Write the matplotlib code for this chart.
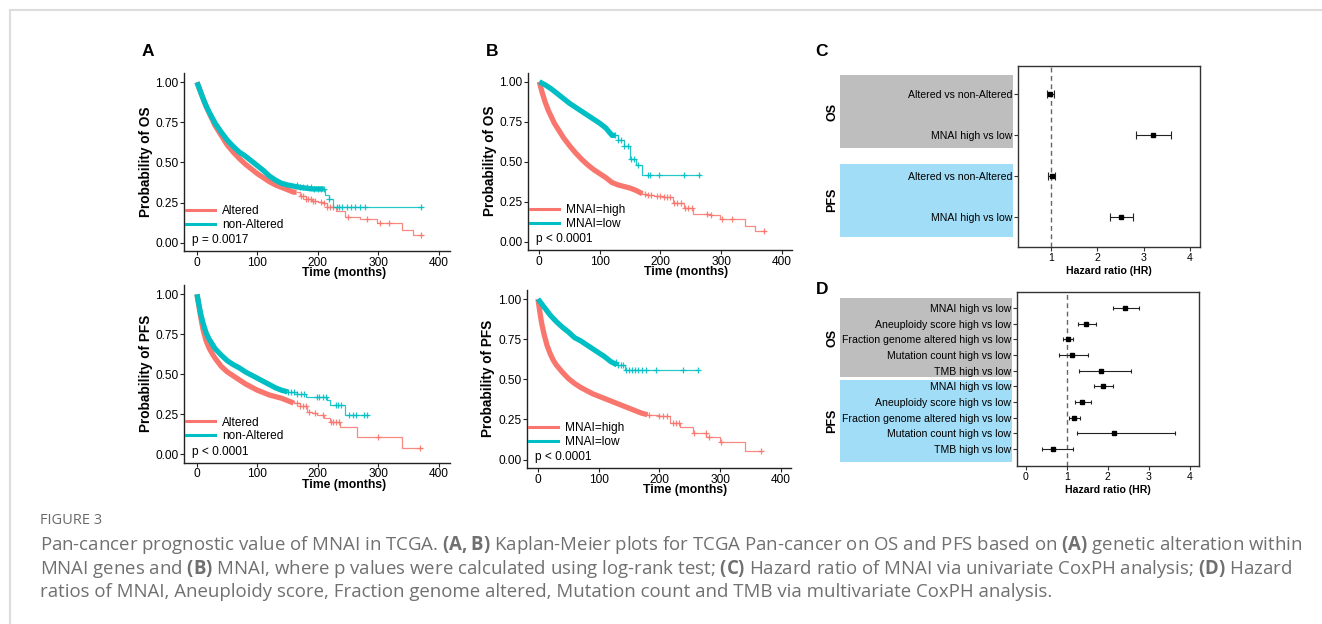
import bisect
import matplotlib
matplotlib.use("Agg")
import matplotlib.pyplot as plt
from matplotlib.lines import Line2D
from matplotlib.patches import Rectangle

plt.rcParams['font.family'] = ['Liberation Sans', 'DejaVu Sans']
plt.rcParams['mathtext.fontset'] = 'custom'
plt.rcParams['mathtext.rm'] = 'Open Sans'
plt.rcParams['mathtext.bf'] = 'Open Sans:bold'

W, H = 1322, 624
RED = "#F8766D"
TEAL = "#00BFC4"

# ---------------- data ----------------
# A, OS
a_os_alt_t = [0, 5, 10, 15, 20, 25, 30, 40, 50, 60, 70, 80, 90, 100, 110, 120, 130, 140, 150, 160, 170, 180, 190, 200, 210, 215, 230, 245, 270, 298, 340, 358]
a_os_alt_s = [1.0, 0.95, 0.90, 0.85, 0.81, 0.77, 0.73, 0.67, 0.61, 0.565, 0.525, 0.49, 0.46, 0.43, 0.405, 0.38, 0.36, 0.345, 0.33, 0.315, 0.29, 0.27, 0.26, 0.255, 0.245, 0.22, 0.20, 0.16, 0.15, 0.12, 0.08, 0.045]
a_os_alt_end = 372
a_os_alt_cens = [172, 176, 180, 184, 188, 192, 196, 205, 210, 216, 220, 226, 250, 282, 303, 318, 371]
a_os_non_t = [0, 5, 10, 15, 20, 25, 30, 40, 50, 60, 70, 80, 90, 100, 110, 120, 130, 140, 150, 170, 190, 212, 218, 226]
a_os_non_s = [1.0, 0.95, 0.90, 0.855, 0.815, 0.78, 0.745, 0.69, 0.64, 0.60, 0.565, 0.54, 0.51, 0.48, 0.45, 0.415, 0.39, 0.37, 0.36, 0.345, 0.335, 0.30, 0.27, 0.225]
a_os_non_end = 372
a_os_non_cens = [165, 170, 176, 182, 188, 194, 200, 205, 210, 219, 232, 236, 240, 248, 255, 262, 270, 279, 371]

# A, PFS
a_pfs_alt_t = [0, 3, 6, 10, 15, 20, 25, 30, 40, 50, 60, 70, 80, 90, 100, 110, 120, 130, 140, 150, 160, 170, 182, 190, 199, 210, 221, 237, 265, 340]
a_pfs_alt_s = [1.0, 0.93, 0.86, 0.78, 0.71, 0.665, 0.63, 0.60, 0.55, 0.515, 0.49, 0.465, 0.44, 0.42, 0.40, 0.385, 0.37, 0.36, 0.35, 0.335, 0.32, 0.30, 0.265, 0.255, 0.245, 0.225, 0.20, 0.17, 0.105, 0.04]
a_pfs_alt_end = 372
a_pfs_alt_cens = [165, 170, 175, 180, 185, 195, 208, 222, 226, 230, 236, 300, 370]
a_pfs_non_t = [0, 3, 6, 10, 15, 20, 25, 30, 40, 50, 60, 70, 80, 90, 100, 110, 120, 130, 140, 150, 165, 180, 199, 215, 221, 245]
a_pfs_non_s = [1.0, 0.94, 0.88, 0.82, 0.76, 0.72, 0.69, 0.66, 0.62, 0.585, 0.56, 0.54, 0.515, 0.495, 0.475, 0.455, 0.435, 0.415, 0.40, 0.39, 0.375, 0.36, 0.355, 0.34, 0.31, 0.245]
a_pfs_non_end = 283
a_pfs_non_cens = [150, 155, 160, 166, 172, 178, 198, 202, 208, 213, 230, 234, 238, 252, 258, 264, 276, 281]

# B, OS
b_os_hi_t = [0, 5, 10, 15, 20, 25, 30, 40, 50, 60, 70, 80, 90, 100, 110, 120, 130, 140, 150, 160, 170, 177, 190, 205, 221, 238, 254, 282, 298, 340, 356]
b_os_hi_s = [1.0, 0.93, 0.87, 0.82, 0.78, 0.74, 0.71, 0.65, 0.60, 0.555, 0.515, 0.48, 0.45, 0.425, 0.40, 0.37, 0.355, 0.345, 0.335, 0.32, 0.30, 0.29, 0.285, 0.28, 0.24, 0.21, 0.175, 0.165, 0.14, 0.095, 0.065]
b_os_hi_end = 372
b_os_hi_cens = [175, 180, 185, 195, 200, 205, 210, 215, 222, 228, 234, 240, 246, 252, 276, 283, 302, 318, 371]
b_os_lo_t = [0, 10, 20, 30, 40, 50, 60, 70, 80, 90, 100, 110, 120, 130, 140, 150, 160, 170]
b_os_lo_s = [1.0, 0.98, 0.955, 0.925, 0.895, 0.865, 0.84, 0.815, 0.79, 0.765, 0.74, 0.71, 0.665, 0.635, 0.60, 0.52, 0.48, 0.415]
b_os_lo_end = 265
b_os_lo_cens = [125, 130, 135, 140, 146, 152, 157, 163, 180, 183, 197, 238, 264]

# B, PFS
b_pfs_hi_t = [0, 3, 6, 10, 15, 20, 25, 30, 40, 50, 60, 70, 80, 90, 100, 110, 120, 130, 140, 150, 160, 170, 180, 200, 217, 234, 255, 277, 300, 341]
b_pfs_hi_s = [1.0, 0.92, 0.85, 0.78, 0.71, 0.66, 0.62, 0.59, 0.545, 0.505, 0.475, 0.45, 0.43, 0.41, 0.395, 0.38, 0.365, 0.35, 0.335, 0.32, 0.305, 0.29, 0.28, 0.27, 0.23, 0.205, 0.165, 0.14, 0.11, 0.055]
b_pfs_hi_end = 368
b_pfs_hi_cens = [182, 200, 205, 212, 222, 228, 232, 256, 276, 282, 302, 367]
b_pfs_lo_t = [0, 10, 20, 30, 40, 50, 60, 70, 80, 90, 100, 110, 120, 130, 143]
b_pfs_lo_s = [1.0, 0.95, 0.90, 0.86, 0.825, 0.795, 0.76, 0.74, 0.715, 0.69, 0.665, 0.64, 0.61, 0.59, 0.555]
b_pfs_lo_end = 264
b_pfs_lo_cens = [128, 132, 136, 140, 145, 150, 155, 160, 165, 172, 178, 195, 238, 263]

# C, univariate Cox
c_labels = ["Altered vs non-Altered", "MNAI high vs low"]
c_os_hr = [0.99, 3.20]
c_os_lo = [0.91, 2.84]
c_os_hi = [1.07, 3.59]
c_pfs_hr = [1.02, 2.51]
c_pfs_lo = [0.95, 2.28]
c_pfs_hi = [1.09, 2.78]

# D, multivariate Cox
d_labels = ["MNAI high vs low", "Aneuploidy score high vs low", "Fraction genome altered high vs low",
            "Mutation count high vs low", "TMB high vs low"]
d_os_hr = [2.42, 1.47, 1.02, 1.12, 1.83]
d_os_lo = [2.12, 1.27, 0.91, 0.82, 1.31]
d_os_hi = [2.77, 1.72, 1.15, 1.52, 2.56]
d_pfs_hr = [1.88, 1.37, 1.18, 2.14, 0.67]
d_pfs_lo = [1.67, 1.20, 1.06, 1.25, 0.40]
d_pfs_hi = [2.12, 1.59, 1.33, 3.65, 1.15]

caption = [
    r"Pan-cancer prognostic value of MNAI in TCGA. $\mathbf{(A,B)}$ Kaplan-Meier plots for TCGA Pan-cancer on OS and PFS based on $\mathbf{(A)}$ genetic alteration within",
    r"MNAI genes and $\mathbf{(B)}$ MNAI, where p values were calculated using log-rank test; $\mathbf{(C)}$ Hazard ratio of MNAI via univariate CoxPH analysis; $\mathbf{(D)}$ Hazard",
    r"ratios of MNAI, Aneuploidy score, Fraction genome altered, Mutation count and TMB via multivariate CoxPH analysis.",
]


def box(x0, y0, x1, y1):
    # pixel box (origin top-left) -> figure fraction [l, b, w, h]
    return [x0 / W, 1 - y1 / H, (x1 - x0) / W, (y1 - y0) / H]


def surv_at(t, s, x):
    i = bisect.bisect_right(t, x) - 1
    return s[max(i, 0)]


def km_curve(ax, t, s, t_end, cens, thick_to, col):
    # sparse tail: thin step line
    tail = [i for i in range(len(t)) if t[i] >= thick_to]
    k0 = max(tail[0] - 1, 0) if tail else len(t) - 1
    tt = [thick_to] + t[k0 + 1:] + [t_end]
    ss = [s[k0]] + s[k0 + 1:] + [s[-1]]
    ax.step(tt, ss, where='post', color=col, lw=0.9, alpha=0.85)
    # dense censoring part looks like a thick band
    dense = [i for i in range(len(t)) if t[i] <= thick_to]
    xs = [t[i] for i in dense] + [thick_to]
    ys = [s[i] for i in dense] + [surv_at(t, s, thick_to)]
    ax.plot(xs, ys, color=col, lw=3.8, solid_capstyle='butt', solid_joinstyle='round')
    cy = [surv_at(t, s, c) for c in cens]
    ax.plot(cens, cy, '+', color=col, ms=5, mew=0.9, alpha=0.9)


def km_panel(ax, g1, g2, names, ylabel, ptext, xlim):
    km_curve(ax, *g1, RED)
    km_curve(ax, *g2, TEAL)
    ax.set_xlim(*xlim)
    ax.set_ylim(-0.052, 1.058)
    ax.set_xticks([0, 100, 200, 300, 400])
    ax.set_yticks([0, 0.25, 0.5, 0.75, 1.0])
    ax.set_yticklabels(["0.00", "0.25", "0.50", "0.75", "1.00"])
    for side in ['top', 'right']:
        ax.spines[side].set_visible(False)
    for side in ['left', 'bottom']:
        ax.spines[side].set_color('#222222')
        ax.spines[side].set_linewidth(1.0)
    ax.tick_params(length=3, width=0.8, color='#222222', labelsize=8.6, pad=1.0)
    ax.set_xlabel("Time (months)", fontsize=8.8, fontweight='bold', labelpad=0)
    ax.xaxis.set_label_coords(0.6, -0.092)
    ax.set_ylabel(ylabel, fontsize=9.8, fontweight='bold', labelpad=2)
    handles = [Line2D([], [], color=RED, lw=2.2), Line2D([], [], color=TEAL, lw=2.2)]
    ax.legend(handles, names, loc='lower left', bbox_to_anchor=(0.0, 0.1), frameon=False,
              fontsize=8.6, handlelength=2.4, handletextpad=0.6, labelspacing=0.15,
              borderaxespad=0, borderpad=0.2)
    ax.text(0.03, 0.06, ptext, transform=ax.transAxes, fontsize=8.6, va='center')


def forest(ax, hr, lo, hi, labels, xlim, ylim, xticks, ms, cap):
    n = len(hr)
    ys = list(range(n, 0, -1))
    ax.axvline(1, color='#666666', lw=1.0, ls=(0, (3.5, 2.5)), zorder=1)
    err = [[h - l for h, l in zip(hr, lo)], [u - h for h, u in zip(hr, hi)]]
    ax.errorbar(hr, ys, xerr=err, fmt='s', color='#222222', mfc='black', mec='black', ms=ms,
                capsize=cap, elinewidth=0.8, capthick=0.8, zorder=3)
    ax.set_xlim(*xlim)
    ax.set_ylim(*ylim)
    ax.set_yticks(ys)
    ax.set_yticklabels(labels)
    ax.set_xticks(xticks)
    for sp in ax.spines.values():
        sp.set_color('#333333')
        sp.set_linewidth(1.0)
    ax.tick_params(axis='y', length=3, width=0.8, color='#333333', labelsize=7.6, pad=1.5)
    ax.tick_params(axis='x', length=3, width=0.8, color='#333333', labelsize=7.6, pad=1.5)
    ax.set_xlabel("Hazard ratio (HR)", fontsize=7.6, fontweight='bold', labelpad=2)


fig = plt.figure(figsize=(W / 100, H / 100), dpi=100)

# outer frame of the page
fig.add_artist(Line2D([10 / W, 1], [1 - 10 / H, 1 - 10 / H], color='#dddddd', lw=1.5))
fig.add_artist(Line2D([10 / W, 10 / W], [0, 1 - 10 / H], color='#dddddd', lw=1.5))

# ---------------- A ----------------
ax = fig.add_axes(box(184, 73, 450, 251))
km_panel(ax, (a_os_alt_t, a_os_alt_s, a_os_alt_end, a_os_alt_cens, 165),
         (a_os_non_t, a_os_non_s, a_os_non_end, a_os_non_cens, 210),
         ["Altered", "non-Altered"], "Probability of OS", "p = 0.0017", (-21.5, 419))
ax = fig.add_axes(box(184, 285, 450, 462.5))
km_panel(ax, (a_pfs_alt_t, a_pfs_alt_s, a_pfs_alt_end, a_pfs_alt_cens, 160),
         (a_pfs_non_t, a_pfs_non_s, a_pfs_non_end, a_pfs_non_cens, 150),
         ["Altered", "non-Altered"], "Probability of PFS", "p < 0.0001", (-21.5, 419))

# ---------------- B ----------------
ax = fig.add_axes(box(528, 72.5, 791.7, 250))
km_panel(ax, (b_os_hi_t, b_os_hi_s, b_os_hi_end, b_os_hi_cens, 170),
         (b_os_lo_t, b_os_lo_s, b_os_lo_end, b_os_lo_cens, 125),
         ["MNAI=high", "MNAI=low"], "Probability of OS", "p < 0.0001", (-18.6, 416.5))
ax = fig.add_axes(box(526.7, 289.7, 791, 468))
km_panel(ax, (b_pfs_hi_t, b_pfs_hi_s, b_pfs_hi_end, b_pfs_hi_cens, 180),
         (b_pfs_lo_t, b_pfs_lo_s, b_pfs_lo_end, b_pfs_lo_cens, 130),
         ["MNAI=high", "MNAI=low"], "Probability of PFS", "p < 0.0001", (-18.6, 416.5))

# ---------------- C ----------------
fig.add_artist(Rectangle((840 / W, 1 - 148.3 / H), 173.3 / W, 73.3 / H, transform=fig.transFigure,
                         color='#bebebf', lw=0, zorder=0))
fig.add_artist(Rectangle((840 / W, 1 - 237.3 / H), 173.3 / W, 73.3 / H, transform=fig.transFigure,
                         color='#a1ddf7', lw=0, zorder=0))
ax = fig.add_axes(box(1018.3, 65.7, 1200.3, 246.7))
forest(ax, c_os_hr + c_pfs_hr, c_os_lo + c_pfs_lo, c_os_hi + c_pfs_hi, c_labels + c_labels,
       (0.30, 4.22), (0.285, 4.69), [1, 2, 3, 4], 3.4, 2.6)
fig.text(832 / W, 1 - 112 / H, "OS", rotation=90, fontsize=9, fontweight='bold', ha='center', va='center')
fig.text(832 / W, 1 - 200 / H, "PFS", rotation=90, fontsize=9, fontweight='bold', ha='center', va='center')

# ---------------- D ----------------
fig.add_artist(Rectangle((840 / W, 1 - 377.3 / H), 172.3 / W, 79 / H, transform=fig.transFigure,
                         color='#bebebf', lw=0, zorder=0))
fig.add_artist(Rectangle((840 / W, 1 - 461.7 / H), 172.3 / W, 81.7 / H, transform=fig.transFigure,
                         color='#a1ddf7', lw=0, zorder=0))
ax = fig.add_axes(box(1017.3, 291.7, 1199.3, 465.7))
forest(ax, d_os_hr + d_pfs_hr, d_os_lo + d_pfs_lo, d_os_hi + d_pfs_hi, d_labels + d_labels,
       (-0.205, 4.23), (-0.066, 11.04), [0, 1, 2, 3, 4], 3.3, 1.6)
fig.text(832 / W, 1 - 338 / H, "OS", rotation=90, fontsize=9, fontweight='bold', ha='center', va='center')
fig.text(832 / W, 1 - 421 / H, "PFS", rotation=90, fontsize=9, fontweight='bold', ha='center', va='center')

# panel letters
for letter, x, y in [("A", 148, 52), ("B", 492, 52), ("C", 822, 52), ("D", 822, 290)]:
    fig.text(x / W, 1 - y / H, letter, fontsize=12.5, fontweight='bold', ha='center', va='center')

# caption
fig.text(40 / W, 1 - 521 / H, "FIGURE 3", fontsize=10.5, color='#6a6a6a', family='Open Sans', va='center')
for i, line in enumerate(caption):
    fig.text(40 / W, 1 - (545 + 23.5 * i) / H, line, fontsize=13.4, color='#707070', family='Open Sans',
             va='center')

fig.savefig("out.png", dpi=100)
